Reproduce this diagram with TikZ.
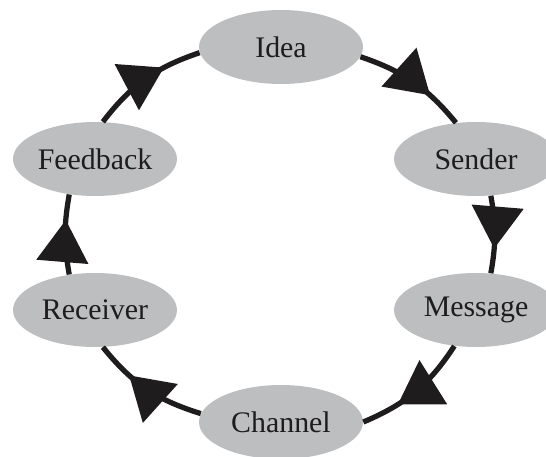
\documentclass[tikz,border=0pt]{standalone}
\usepackage{fontspec}
\setmainfont{Liberation Serif}
\usetikzlibrary{arrows.meta, decorations.markings, shapes.geometric}
\definecolor{stagegray}{RGB}{189,190,192}
\definecolor{inkblack}{RGB}{30,28,29}

\begin{document}
\begin{tikzpicture}[x=0.02cm, y=0.02cm,
		stage/.style={ellipse, fill=stagegray, minimum width=3.28cm, minimum height=1.48cm, inner sep=0pt, text=inkblack, font=\fontsize{17}{20}\selectfont},
		flow/.style={draw=inkblack, line width=3pt, postaction={decorate}, decoration={markings, mark=at position 0.68 with {\arrow{Triangle[length=0.84cm 0 0, width=1.02cm 0 0]}}}}]
			\useasboundingbox (0,0) rectangle (546,456);
			\node (idea) [stage] at (281,409) {Idea};
			\node (sender) [stage] at (476,297) {Sender};
			\node (message) [stage] at (476,146) {Message};
			\node (channel) [stage] at (281,34) {Channel};
			\node (receiver) [stage] at (95,146) {Receiver};
			\node (feedback) [stage] at (95,297) {Feedback};
			\draw [flow] (idea.-7) to[bend left=16] (sender.119);
			\draw [flow] (sender.-68) to[bend left=10] (message.68);
			\draw [flow] (message.-121) to[bend left=17] (channel.0);
			\draw [flow] (channel.174) to[bend left=17] (receiver.-78);
			\draw [flow] (receiver.126) to[bend left=10] (feedback.-126);
			\draw [flow] (feedback.78) to[bend left=17] (idea.184);
		\end{tikzpicture}
\end{document}
